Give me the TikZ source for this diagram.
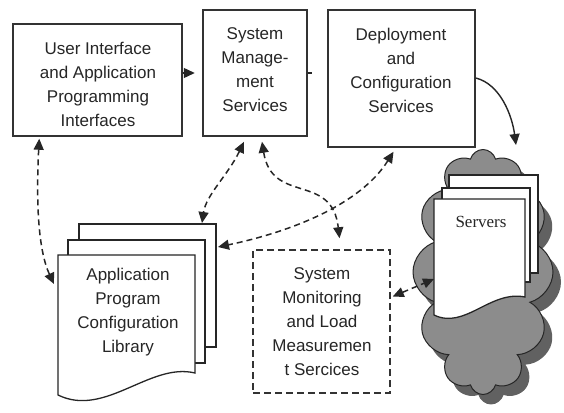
\documentclass[tikz,border=0pt]{standalone}
\usepackage{fontspec}
\setmainfont{Liberation Sans}
\newfontfamily\serverfont{Liberation Serif}
\usetikzlibrary{arrows.meta,shapes.symbols,calc}
\begin{document}
\begin{tikzpicture}[x=1pt,y=-1pt,
 box/.style={draw=black!80,line width=1.5pt,fill=white,inner sep=0pt},
 docline/.style={draw=black!85,line width=1.3pt,fill=white},
 lbl/.style={font=\fontsize{17}{24}\selectfont,align=center,text=black!85,inner sep=0pt},
 dcon/.style={draw=black!85,line width=1.5pt,dash pattern=on 6pt off 4pt,{Triangle[length=11pt,width=10pt]}-{Triangle[length=11pt,width=10pt]}},
 scon/.style={draw=black!85,line width=1.4pt,-{Triangle[length=11pt,width=10pt]}},
 cloudshape/.style={cloud,cloud puffs=12,cloud ignores aspect,minimum width=140pt,minimum height=245pt,inner sep=0pt}
]
\useasboundingbox[fill=white] (0,0) rectangle (564,412);

% boxes
\node[box,minimum width=169pt,minimum height=112pt] (ui) at (97.5,80) {};
\node[lbl] (uit) at (98,84) {User Interface\\and Application\\Programming\\Interfaces};
\node[box,minimum width=104pt,minimum height=126pt] (sys) at (255,73) {};
\node[lbl] (syst) at (255,70) {System\\Manage-\\ment\\Services};
\node[box,minimum width=147pt,minimum height=137pt] (dep) at (401.5,78.5) {};
\node[lbl] (dept) at (401,70) {Deployment\\and\\Configuration\\Services};
\node[box,dash pattern=on 7pt off 4pt,minimum width=137pt,minimum height=143pt] (mon) at (321.5,321.5) {};
\node[lbl] (mont) at (322,322) {System\\Monitoring\\and Load\\Measuremen\\t Sercices};

% library document stack
\draw[docline] (79,224) rectangle (216,347);
\draw[docline] (68,240) rectangle (205,363);
\draw[docline] (58,255) -- (195,255) -- (195,373) .. controls (150,362) and (105,418) .. (58,395) -- cycle;
\node[lbl] (libt) at (128,312) {Application\\Program\\Configuration\\Library};
\coordinate (libL) at (54,284);
\coordinate (libT) at (202,223);
\coordinate (libR) at (218,247);

% cloud
\node[cloudshape,fill=black!62] (cloudsh) at (491,282) {};
\node[cloudshape,draw=black!85,line width=1pt,fill=black!45] (cld) at (483,272) {};

% servers document stack
\draw[docline] (449,175) rectangle (538,273);
\draw[docline] (442,188) rectangle (530,282);
\draw[docline] (434,199) -- (525,199) -- (525,297) .. controls (490,290) and (465,330) .. (434,315) -- cycle;
\node[font=\serverfont\fontsize{17}{20}\selectfont,text=black!85,inner sep=0pt] (srv) at (481,222) {Servers};
\coordinate (srvL) at (434,279);

% connectors
\draw[scon] (ui.east|-0,73) -- ++(12,0) coordinate (uiarrow);
\draw[draw=black!85,line width=1.2pt] (sys.east|-0,73) -- ++(4,0) coordinate (sysstub);
\draw[scon] (dep.east|-0,78) .. controls (500,84) and (512,115) .. ($(cld.north)+(33,-4)$);
\draw[dcon] ($(ui.south west)+(27,2)$) .. controls (36,200) and (38,250) .. (libL);
\draw[dcon] ($(sys.south)+(-11,5)$) .. controls (228,175) and (206,195) .. (libT);
\draw[dcon] ($(sys.south)+(7,5)$) .. controls (272,205) and (332,172) .. ($(mon.north)+(18,-11)$);
\draw[dcon] ($(dep.south)+(-8,4)$) .. controls (360,205) and (290,232) .. (libR);
\draw[dcon] ($(mon.east)+(2,-25)$) -- (srvL);
\end{tikzpicture}
\end{document}
